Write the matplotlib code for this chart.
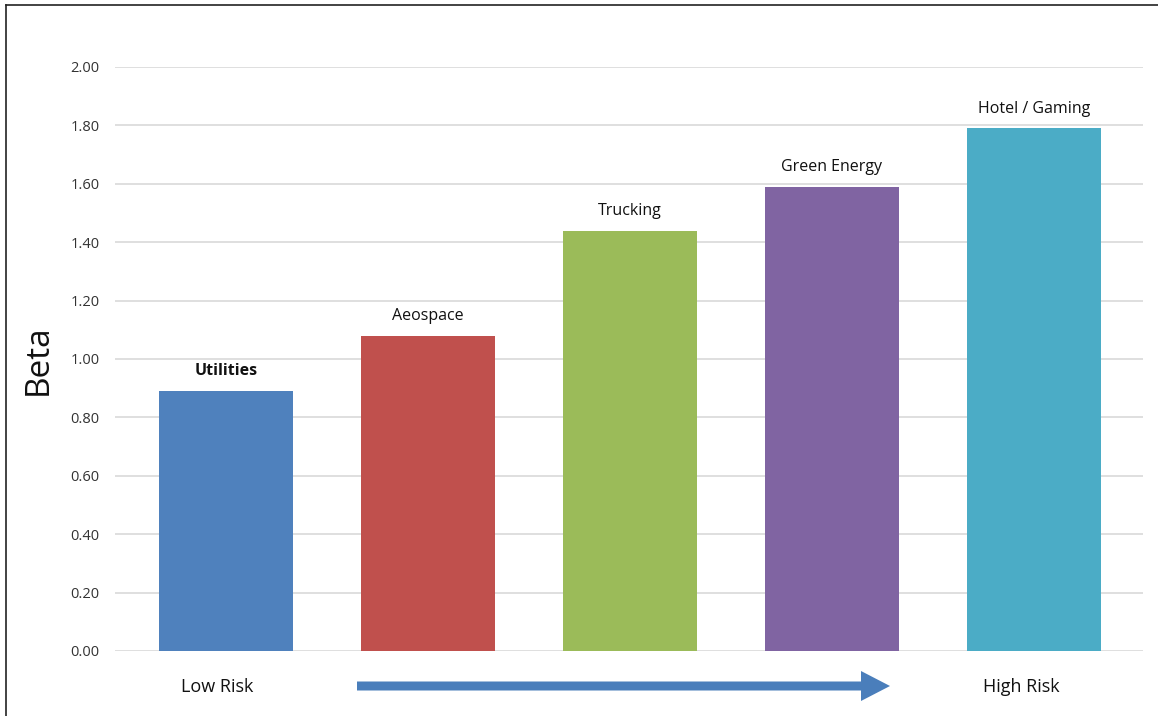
import matplotlib.pyplot as plt
from matplotlib.lines import Line2D
from matplotlib.patches import FancyArrow

plt.rcParams['font.family'] = ['Open Sans', 'DejaVu Sans']

# industry betas
sectors = ['Utilities', 'Aeospace', 'Trucking', 'Green Energy', 'Hotel / Gaming']
betas = [0.89, 1.08, 1.44, 1.59, 1.79]
colors = ['#4f81bd', '#c0504d', '#9bbb59', '#8064a2', '#4bacc6']
yticks = [0.0, 0.2, 0.4, 0.6, 0.8, 1.0, 1.2, 1.4, 1.6, 1.8, 2.0]

fig = plt.figure(figsize=(11.58, 7.16), dpi=100)
ax = fig.add_axes([115 / 1158, 1 - 651 / 716, (1143 - 115) / 1158, (651 - 67) / 716])

x = range(len(sectors))
ax.bar(x, betas, width=0.663, color=colors, zorder=2)

for i, (name, b) in enumerate(zip(sectors, betas)):
    ax.text(i, b + 0.04, name, ha='center', va='bottom', fontsize=11.5,
            color='#111111', fontweight='bold' if i == 0 else 'normal')

ax.set_xlim(-0.55, 4.54)
ax.set_ylim(0, 2.0)
ax.set_yticks(yticks)
ax.set_yticklabels(['%.2f' % t for t in yticks], fontsize=10.5, color='#333333')
ax.set_xticks([])
ax.tick_params(axis='y', length=0, pad=11)
ax.yaxis.grid(True, color='#d9d9d9', linewidth=1.2, zorder=0)
for s in ax.spines.values():
    s.set_visible(False)

fig.text(38 / 1158, 1 - 360 / 716, 'Beta', rotation=90, fontsize=24,
         ha='center', va='center', color='#111111')

# risk direction along the bottom
fig.text(217 / 1158, 1 - 687 / 716, 'Low Risk', fontsize=13, ha='center',
         va='center', color='#111111')
fig.text(1021 / 1158, 1 - 687 / 716, 'High Risk', fontsize=13, ha='center',
         va='center', color='#111111')
arrow = FancyArrow(357 / 1158, 1 - 686 / 716, (890 - 357) / 1158, 0,
                   width=9 / 716, head_width=30 / 716, head_length=29 / 1158,
                   length_includes_head=True, transform=fig.transFigure,
                   color='#4a7ebb', linewidth=0)
fig.add_artist(arrow)

# frame on top and left edges
fig.add_artist(Line2D([6 / 1158, 6 / 1158], [0, 1 - 5 / 716], transform=fig.transFigure,
                      color='#222222', linewidth=1.2))
fig.add_artist(Line2D([6 / 1158, 1], [1 - 5 / 716, 1 - 5 / 716], transform=fig.transFigure,
                      color='#222222', linewidth=1.2))

fig.savefig('out.png', dpi=100)
